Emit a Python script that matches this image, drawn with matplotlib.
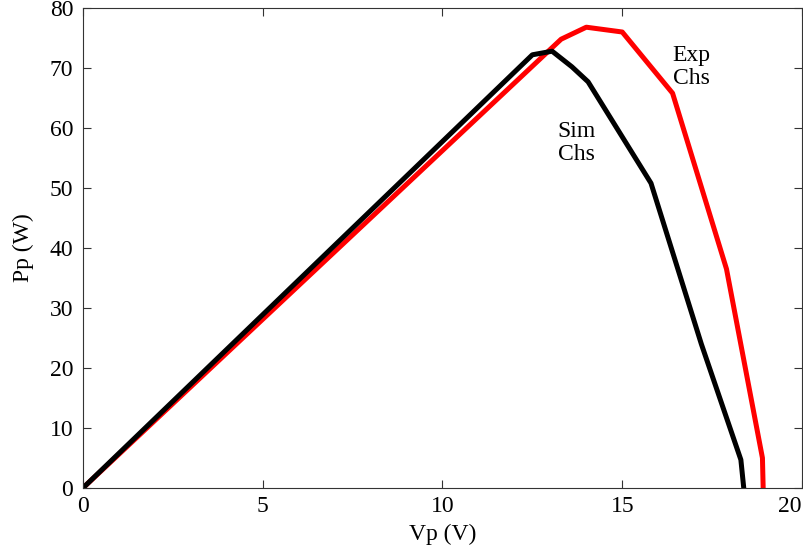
import matplotlib.pyplot as plt

plt.rcParams['font.family'] = ['Liberation Serif', 'DejaVu Serif']

# Simulated characteristic
v_sim = [0, 12.5, 13.05, 13.6, 14.05, 15.8, 17.2, 18.3, 18.38]
p_sim = [0, 72.2, 72.8, 70.2, 67.7, 50.8, 24.0, 4.7, 0]

# Experimental characteristic
v_exp = [0, 13.3, 14.0, 15.0, 16.4, 17.9, 18.9, 18.92]
p_exp = [0, 74.8, 76.8, 76.0, 65.8, 36.5, 5.0, 0]

fig = plt.figure(figsize=(8.04, 5.52), dpi=100)
ax = fig.add_axes([0.1032, 0.116, 0.8943, 0.8695])

ax.plot(v_exp, p_exp, color='red', lw=3.6, solid_joinstyle='round')
ax.plot(v_sim, p_sim, color='black', lw=3.6, solid_joinstyle='round')

ax.text(16.4, 73.9, 'Exp\nChs', fontsize=17, va='top', ha='left', linespacing=1.12)
ax.text(13.2, 61.1, 'Sim\nChs', fontsize=17, va='top', ha='left', linespacing=1.12)

ax.set_xlim(0, 20)
ax.set_ylim(0, 80)
ax.set_xticks([0, 5, 10, 15, 20])
ax.set_yticks(range(0, 81, 10))
ax.tick_params(direction='in', top=True, right=True, labelsize=17, length=6,
               color='#333333')
ax.tick_params(axis='y', pad=7)
ax.tick_params(axis='x', pad=6)
for s in ax.spines.values():
    s.set_color('#333333')
# keep the last x tick label inside the figure
ax.get_xticklabels()[-1].set_ha('right')
ax.set_xlabel('Vp (V)', fontsize=17, labelpad=5)
ax.set_ylabel('Pp (W)', fontsize=17, labelpad=11)

fig.savefig('out.png', dpi=100)
